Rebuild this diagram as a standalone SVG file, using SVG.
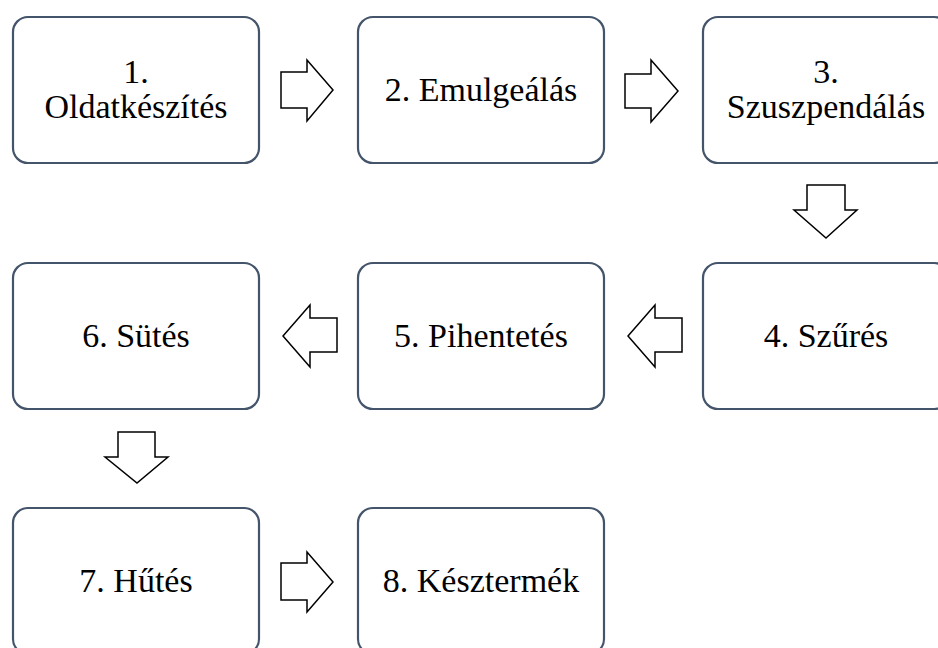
<svg xmlns="http://www.w3.org/2000/svg" width="938" height="648" viewBox="0 0 938 648">
<style>
.box{fill:#fff;stroke:#44546A;stroke-width:2.2}
.arr{fill:#fff;stroke:#000;stroke-width:1.5}
text{font-family:"Times New Roman","Liberation Serif",serif;font-size:34px;fill:#000;text-anchor:middle}
</style>
<rect width="938" height="648" fill="#fff"/>
<g id="connectors">
<polygon class="arr" points="281,72 307,72 307,60 333,90 307,121 307,108 281,108"/>
<polygon class="arr" points="625,74 651,74 651,60 678,91 651,122 651,108 625,108"/>
<polygon class="arr" points="807,185 845,185 845,210 857,210 826,238 794,210 807,210"/>
<polygon class="arr" points="682,318 655,318 655,305 628,336 655,367 655,352 682,352"/>
<polygon class="arr" points="337,318 310,318 310,305 283,336 310,367 310,352 337,352"/>
<polygon class="arr" points="118,432 155,432 155,457 168,457 137,483 105,457 118,457"/>
<polygon class="arr" points="281,563 307,563 307,552 333,582 307,612 307,600 281,600"/>
</g>
<g id="n1"><rect class="box" x="13" y="17" width="246" height="146" rx="15"/><text font-family="Times New Roman" x="136" y="83">1.</text><text font-family="Times New Roman" x="136" y="118">Oldatkészítés</text></g>
<g id="n2"><rect class="box" x="358" y="17" width="246" height="146" rx="15"/><text font-family="Times New Roman" x="481" y="101">2. Emulgeálás</text></g>
<g id="n3"><rect class="box" x="703" y="17" width="246" height="146" rx="15"/><text font-family="Times New Roman" x="826" y="83">3.</text><text font-family="Times New Roman" x="826" y="118">Szuszpendálás</text></g>
<g id="n4"><rect class="box" x="703" y="263" width="246" height="146" rx="15"/><text font-family="Times New Roman" x="826" y="347">4. Szűrés</text></g>
<g id="n5"><rect class="box" x="358" y="263" width="246" height="146" rx="15"/><text font-family="Times New Roman" x="481" y="347">5. Pihentetés</text></g>
<g id="n6"><rect class="box" x="13" y="263" width="246" height="146" rx="15"/><text font-family="Times New Roman" x="136" y="347">6. Sütés</text></g>
<g id="n7"><rect class="box" x="13" y="508" width="246" height="146" rx="15"/><text font-family="Times New Roman" x="136" y="592">7. Hűtés</text></g>
<g id="n8"><rect class="box" x="358" y="508" width="246" height="146" rx="15"/><text font-family="Times New Roman" x="481" y="592">8. Késztermék</text></g>
</svg>
